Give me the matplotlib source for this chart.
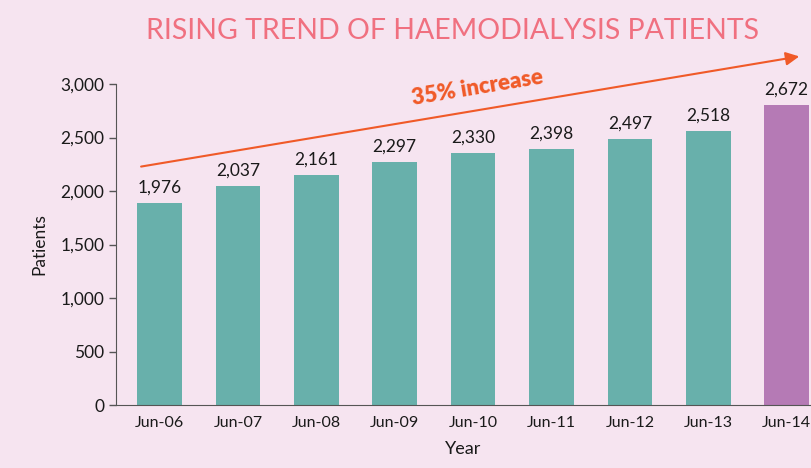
import matplotlib.pyplot as plt
import numpy as np

# data
years = ["Jun-06", "Jun-07", "Jun-08", "Jun-09", "Jun-10", "Jun-11", "Jun-12", "Jun-13", "Jun-14"]
bar_heights = [1888, 2047, 2150, 2271, 2355, 2393, 2486, 2561, 2804]
bar_labels = ["1,976", "2,037", "2,161", "2,297", "2,330", "2,398", "2,497", "2,518", "2,672"]
yticks = [0, 500, 1000, 1500, 2000, 2500, 3000]

bg = "#F6E4F0"
teal = "#68B0AB"
purple = "#B57AB5"
orange = "#F05A28"

plt.rcParams['font.family'] = ['Lato', 'DejaVu Sans']

fig = plt.figure(figsize=(8.11, 4.68), dpi=100, facecolor=bg)
ax = fig.add_axes([116/811, 63/468, 695/811, 321/468])
ax.set_facecolor(bg)

x = np.arange(len(years))
colors = [teal]*(len(years)-1) + [purple]
ax.bar(x, bar_heights, width=0.57, color=colors, zorder=2)

for xi, h, lab in zip(x, bar_heights, bar_labels):
    ax.annotate(lab, (xi, h), xytext=(0, 5), textcoords="offset points",
                ha="center", va="bottom", fontsize=12.5, color="#1a1a1a",
                annotation_clip=False)

ax.set_xlim(-0.555, 8.31)
ax.set_ylim(0, 3000)
ax.set_xticks(x)
ax.set_xticklabels(years)
ax.set_yticks(yticks)
ax.set_yticklabels([f"{v:,}" for v in yticks])
ax.tick_params(axis="x", length=0, pad=8, labelsize=11.5, labelcolor="#1a1a1a")
ax.tick_params(axis="y", length=5, width=1, color="#555555", labelsize=12.5, labelcolor="#1a1a1a")

for s in ["top", "right"]:
    ax.spines[s].set_visible(False)
ax.spines["left"].set_color("#555555")
ax.spines["bottom"].set_color("#555555")

ax.set_ylabel("Patients", fontsize=12.5, color="#1a1a1a", labelpad=9)
ax.set_xlabel("Year", fontsize=13, color="#1a1a1a", labelpad=8)

# trend arrow
ax.annotate("", xy=(8.195, 3262), xytext=(-0.27, 2224),
            arrowprops=dict(arrowstyle="-|>", color=orange, lw=1.5,
                            mutation_scale=20),
            annotation_clip=False)
ax.text(4.05, 2963, "35% increase", color=orange, fontsize=16, fontweight="heavy",
        rotation=9.4, ha="center", va="center", rotation_mode="anchor")

fig.text(452/811, 1 - 31/468, "RISING TREND OF HAEMODIALYSIS PATIENTS",
         color="#F07080", fontsize=20.5, ha="center", va="center")

fig.savefig("out.png", dpi=100, facecolor=bg)
